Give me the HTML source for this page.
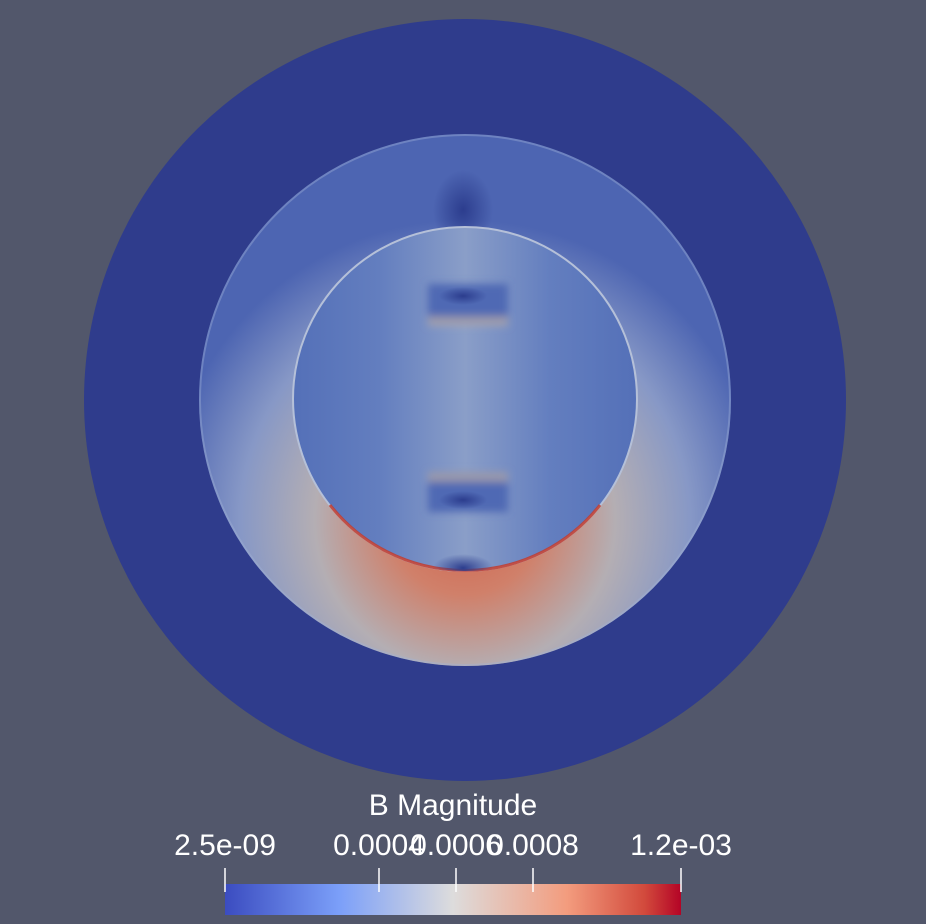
<!DOCTYPE html>
<html><head><meta charset="utf-8"><style>
html,body{margin:0;padding:0;background:#52576b;}
svg{display:block;}
text{font-family:"Liberation Sans",sans-serif;fill:#fff;}
</style></head><body>
<svg width="926" height="924" viewBox="0 0 926 924">
<defs>
<radialGradient id="mid" cx="465" cy="520" r="300" gradientUnits="userSpaceOnUse">
<stop offset="0" stop-color="#d0624c"/>
<stop offset="0.25" stop-color="#d0806a"/>
<stop offset="0.5" stop-color="#b4aeb3"/>
<stop offset="0.75" stop-color="#8798c6"/>
<stop offset="1" stop-color="#4d65b2"/>
</radialGradient>
<linearGradient id="innerH" x1="0" x2="1" y1="0" y2="0">
<stop offset="0" stop-color="#5470b8"/>
<stop offset="0.25" stop-color="#637ebf"/>
<stop offset="0.5" stop-color="#8a9ec8"/>
<stop offset="0.75" stop-color="#637ebf"/>
<stop offset="1" stop-color="#5470b8"/>
</linearGradient>
<radialGradient id="dark" cx="0.5" cy="0.5" r="0.5">
<stop offset="0" stop-color="#2c3d8e"/>
<stop offset="1" stop-color="#2c3d8e" stop-opacity="0"/>
</radialGradient>
<linearGradient id="cbar" x1="0" x2="1">
<stop offset="0" stop-color="#3b4cc0"/>
<stop offset="0.25" stop-color="#7b9ff9"/>
<stop offset="0.5" stop-color="#dddcdc"/>
<stop offset="0.75" stop-color="#f39c7e"/>
<stop offset="0.92" stop-color="#d24a3c"/>
<stop offset="1" stop-color="#b40426"/>
</linearGradient>
<filter id="blur" x="-20%" y="-20%" width="140%" height="140%"><feGaussianBlur stdDeviation="4"/></filter>
<clipPath id="ic"><circle cx="465" cy="399" r="172"/></clipPath>
</defs>
<circle cx="465" cy="400" r="381" fill="#2f3c8c"/>
<circle cx="465" cy="400" r="266" fill="url(#mid)"/>
<circle cx="465" cy="400" r="265" fill="none" stroke="#9fb2d8" stroke-width="2" opacity="0.4"/>
<ellipse cx="463" cy="210" rx="30" ry="40" fill="url(#dark)"/>
<circle cx="465" cy="399" r="172" fill="url(#innerH)" stroke="#b5c0d8" stroke-width="2"/>
<path d="M330 505 A172 172 0 0 0 600 505" fill="none" stroke="#c23b2e" stroke-width="3" opacity="0.85"/>
<g clip-path="url(#ic)">
<g filter="url(#blur)">
<rect x="428" y="284" width="80" height="40" fill="#4f69b4"/>
<rect x="428" y="316" width="80" height="10" fill="#c9b7a6" opacity="0.6"/>
<rect x="428" y="472" width="80" height="40" fill="#4f69b4"/>
<rect x="428" y="472" width="80" height="10" fill="#c9b7a6" opacity="0.6"/>
</g>
<ellipse cx="463" cy="296" rx="24" ry="9" fill="url(#dark)"/>
<ellipse cx="463" cy="500" rx="24" ry="9" fill="url(#dark)"/>
<ellipse cx="463" cy="568" rx="30" ry="14" fill="url(#dark)"/>
</g>
<text x="453" y="815" font-size="30" text-anchor="middle">B Magnitude</text>
<g font-size="30" text-anchor="middle">
<text x="225" y="855">2.5e-09</text>
<text x="379" y="855">0.0004</text>
<text x="456" y="855">0.0006</text>
<text x="533" y="855">0.0008</text>
<text x="681" y="855">1.2e-03</text>
</g>
<rect x="225" y="884" width="456" height="31" fill="url(#cbar)"/>
<g stroke="#fff" stroke-width="1.5">
<line x1="225" y1="868" x2="225" y2="892"/>
<line x1="379" y1="868" x2="379" y2="892"/>
<line x1="456" y1="868" x2="456" y2="892"/>
<line x1="533" y1="868" x2="533" y2="892"/>
<line x1="681" y1="868" x2="681" y2="892"/>
</g>
</svg>
</body></html>
